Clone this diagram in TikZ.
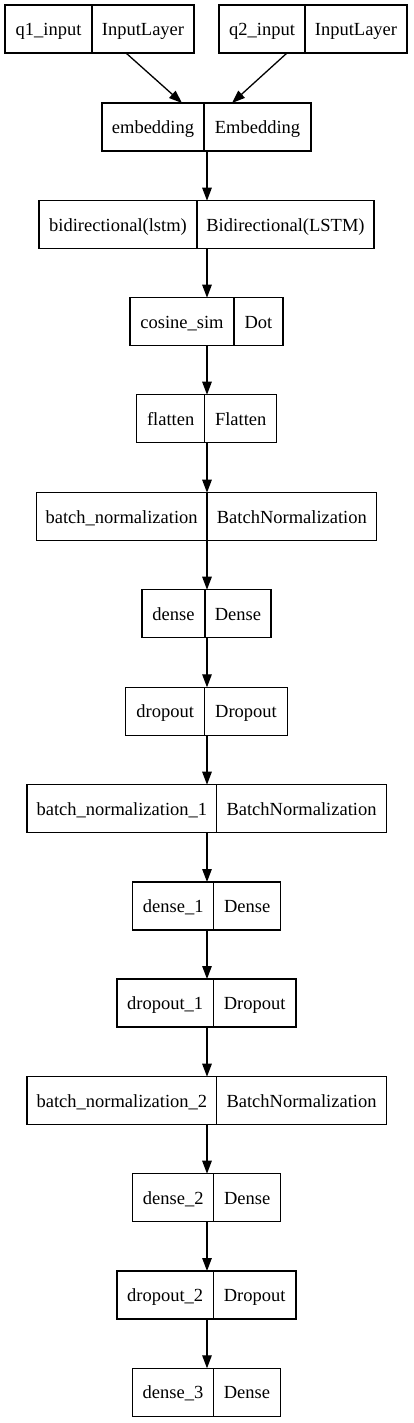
\documentclass[tikz,border=0pt]{standalone}
\usepackage{fontspec}
\setmainfont{Liberation Serif}
\usetikzlibrary{arrows.meta}
\tikzset{
  recbox/.style={draw=black, line width=1.3pt, minimum height=48pt, inner sep=0pt, outer sep=0pt},
  recline/.style={draw=black, line width=1.3pt},
  lbl/.style={anchor=base, inner sep=0pt, font=\fontsize{18.5}{22}\selectfont},
  arr/.style={draw=black, line width=1.3pt, -{Triangle[length=13pt, width=9.5pt]}},
}
\newcommand\layerrec[7]{%
  \node[recbox, minimum width={(#4-#2)*1pt}, anchor=north west] (#1) at (#2,#5) {};
  \draw[recline] (#3,#5) -- (#3,{#5+48});
  \node[lbl] (#1-l) at ({(#2+#3)/2},{#5+30.5}) {#6};
  \node[lbl] (#1-r) at ({(#3+#4)/2},{#5+30.5}) {#7};
}
\begin{document}
\begin{tikzpicture}[x=1pt, y=-1pt]
\useasboundingbox (0,0) rectangle (413,1423);
\coordinate (spine) at (207,0);
\layerrec{q1}{5}{92}{194}{5}{q1\_input}{InputLayer}
\layerrec{q2}{219}{305}{407}{5}{q2\_input}{InputLayer}
\layerrec{emb}{102}{204}{311}{103}{embedding}{Embedding}
\layerrec{bidir}{39}{197}{374}{200.7}{bidirectional(lstm)}{Bidirectional(LSTM)}
\layerrec{cos}{130}{234}{283}{297.7}{cosine\_sim}{Dot}
\layerrec{flat}{136.7}{204.7}{276.7}{394.7}{flatten}{Flatten}
\layerrec{bn}{36.3}{207}{376.7}{492.7}{batch\_normalization}{BatchNormalization}
\layerrec{dense}{142}{205}{271}{589.7}{dense}{Dense}
\layerrec{drop}{125.7}{204.7}{287.3}{687.3}{dropout}{Dropout}
\layerrec{bnA}{27}{216.7}{386.3}{784.7}{batch\_normalization\_1}{BatchNormalization}
\layerrec{denseA}{132.7}{213.7}{280.7}{882}{dense\_1}{Dense}
\layerrec{dropA}{117}{213.3}{296}{979}{dropout\_1}{Dropout}
\layerrec{bnB}{27}{216.7}{386.3}{1076.7}{batch\_normalization\_2}{BatchNormalization}
\layerrec{denseB}{132.7}{213.7}{280.7}{1173.7}{dense\_2}{Dense}
\layerrec{dropB}{117}{213.3}{296}{1271}{dropout\_2}{Dropout}
\layerrec{denseC}{132.7}{213.3}{280.7}{1368.3}{dense\_3}{Dense}

\draw[arr] ([xshift=121pt]q1.south west) -- ([xshift=80pt]emb.north west);
\draw[arr] ([xshift=68pt]q2.south west) -- ([xshift=130pt]emb.north west);
\draw[arr] (emb.south -| spine) -- (bidir.north -| spine);
\draw[arr] (bidir.south -| spine) -- (cos.north -| spine);
\draw[arr] (cos.south -| spine) -- (flat.north -| spine);
\draw[arr] (flat.south -| spine) -- (bn.north -| spine);
\draw[arr] (bn.south -| spine) -- (dense.north -| spine);
\draw[arr] (dense.south -| spine) -- (drop.north -| spine);
\draw[arr] (drop.south -| spine) -- (bnA.north -| spine);
\draw[arr] (bnA.south -| spine) -- (denseA.north -| spine);
\draw[arr] (denseA.south -| spine) -- (dropA.north -| spine);
\draw[arr] (dropA.south -| spine) -- (bnB.north -| spine);
\draw[arr] (bnB.south -| spine) -- (denseB.north -| spine);
\draw[arr] (denseB.south -| spine) -- (dropB.north -| spine);
\draw[arr] (dropB.south -| spine) -- (denseC.north -| spine);
\end{tikzpicture}
\end{document}
